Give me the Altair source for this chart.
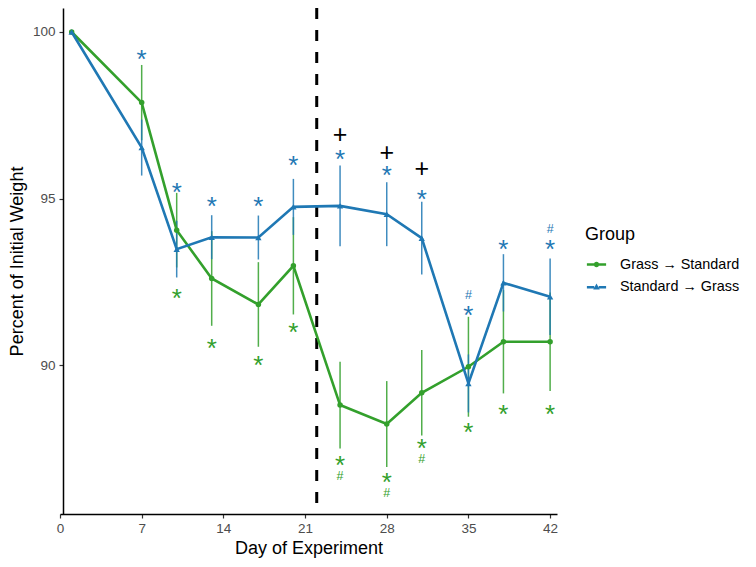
import altair as alt
import pandas as pd

# ---- data -------------------------------------------------------------
groups = ["Grass → Standard", "Standard → Grass"]
group_colors = ["#33a02c", "#1f78b4"]

days = [1, 7, 10, 13, 17, 20, 24, 28, 31, 35, 38, 42]

grass_to_standard_mean = [100.0, 97.88, 94.05, 92.60, 91.82, 92.98, 88.80, 88.23, 89.17, 89.95, 90.70, 90.70]
grass_to_standard_se = [0.0, 1.13, 1.12, 1.42, 1.27, 1.46, 1.30, 1.29, 1.28, 1.50, 1.55, 1.48]

standard_to_grass_mean = [100.0, 96.53, 93.48, 93.84, 93.83, 94.75, 94.78, 94.53, 93.81, 89.45, 92.47, 92.05]
standard_to_grass_se = [0.0, 0.84, 0.85, 0.66, 0.66, 0.84, 1.21, 0.96, 1.09, 0.87, 0.86, 1.15]

diet_switch_day = 22

# significance markers (placed at the centre of each glyph)
sg_star_days = [7, 10, 13, 17, 20, 24, 28, 31, 35, 38, 42]
sg_star_vals = [99.36, 95.38, 94.95, 94.95, 96.18, 96.36, 95.88, 95.17, 91.68, 93.67, 93.67]
sg_hash_days = [35, 42]
sg_hash_vals = [92.12, 94.10]

gs_star_days = [10, 13, 17, 20, 24, 28, 31, 35, 38, 42]
gs_star_vals = [92.18, 90.68, 90.18, 91.18, 87.18, 86.68, 87.68, 88.18, 88.70, 88.70]
gs_hash_days = [24, 28, 31]
gs_hash_vals = [86.68, 86.18, 87.20]

between_days = [24, 28, 31]
between_vals = [96.93, 96.41, 95.91]

# ---- tables -------------------------------------------------------------
rows = []
for g, means, ses in [(groups[0], grass_to_standard_mean, grass_to_standard_se),
                      (groups[1], standard_to_grass_mean, standard_to_grass_se)]:
    for d, m, s in zip(days, means, ses):
        rows.append({"Day": d, "Group": g, "Mean": m, "Lo": m - s, "Hi": m + s})
df = pd.DataFrame(rows)

ann_rows = []
for series, sym, ds, vs in [
    (groups[1], "*", sg_star_days, sg_star_vals),
    (groups[1], "#", sg_hash_days, sg_hash_vals),
    (groups[0], "*", gs_star_days, gs_star_vals),
    (groups[0], "#", gs_hash_days, gs_hash_vals),
    ("Between groups", "+", between_days, between_vals),
]:
    for d, v in zip(ds, vs):
        ann_rows.append({"Day": d, "Value": v, "Symbol": sym, "Series": series})
ann = pd.DataFrame(ann_rows)

switch = pd.DataFrame({"Day": [diet_switch_day]})

# ---- encodings ------------------------------------------------------------
FONT = "Liberation Sans"
x_scale = alt.Scale(domain=[0, 42.59], nice=False, zero=False)
y_scale = alt.Scale(domain=[85.53, 100.72], nice=False, zero=False)

common_axis = dict(
    grid=False, domainColor="black", domainWidth=1.5,
    tickColor="#333333", tickSize=4, tickWidth=1.2,
    labelColor="#4d4d4d", labelFontSize=13.5, labelFont=FONT,
    labelFlush=False, labelOverlap=False,
    titleFont=FONT, titleFontSize=18, titleFontWeight="normal", titleColor="black",
)
x_axis = alt.Axis(values=[0, 7, 14, 21, 28, 35, 42], title="Day of Experiment",
                  labelPadding=3, titlePadding=5, **common_axis)
y_axis = alt.Axis(values=[90, 95, 100], title="Percent of Initial Weight",
                  offset=-3, labelPadding=4, titlePadding=6, **common_axis)


def X(field="Day"):
    return alt.X(f"{field}:Q", scale=x_scale, axis=x_axis)


def Y(field):
    return alt.Y(f"{field}:Q", scale=y_scale, axis=y_axis)


def group_color(legend=None):
    return alt.Color("Group:N", scale=alt.Scale(domain=groups, range=group_colors), legend=legend)


# ---- layers ---------------------------------------------------------------
vline = alt.Chart(switch).mark_rule(color="black", strokeWidth=3, strokeDash=[11, 11]).encode(
    x=X(), y=alt.value(0), y2=alt.value(506)
)

errbars = alt.Chart(df).mark_rule(strokeWidth=1.5, opacity=0.85).encode(
    x=X(), y=Y("Lo"), y2="Hi:Q", color=group_color()
)

lines = alt.Chart(df).mark_line(strokeWidth=2.6).encode(
    x=X(), y=Y("Mean"), color=group_color()
)

circles = alt.Chart(df).transform_filter(alt.datum.Group == groups[0]).mark_point(
    filled=True, size=30, shape="circle", opacity=1
).encode(x=X(), y=Y("Mean"), color=group_color())

triangles = alt.Chart(df).transform_filter(alt.datum.Group == groups[1]).mark_point(
    filled=True, size=40, shape="triangle-up", opacity=1
).encode(x=X(), y=Y("Mean"), color=group_color())

# legend keys: a line segment with the group's point symbol on it
circle_key = ("M-0.85,-0.115H-0.2V0.115H-0.85Z M0.2,-0.115H0.85V0.115H0.2Z "
              "M0.24,0A0.24,0.24 0 1,1 -0.24,0A0.24,0.24 0 1,1 0.24,0Z")
triangle_key = ("M-0.85,-0.115H-0.2V0.115H-0.85Z M0.2,-0.115H0.85V0.115H0.2Z "
                "M0,-0.32L0.29,0.2L-0.29,0.2Z")

legend = alt.Legend(
    title="Group", orient="none", legendX=525, legendY=218, padding=0, offset=0,
    titleFont=FONT, titleFontSize=18, titleFontWeight="normal", titleColor="black",
    titlePadding=9, labelFont=FONT, labelFontSize=14.4, labelColor="black",
    labelOffset=12, symbolSize=511, symbolStrokeWidth=0, symbolOpacity=1, rowPadding=4.7,
)
legend_layer = alt.Chart(df).mark_point(filled=True, opacity=0).encode(
    x=X(), y=Y("Mean"),
    color=group_color(legend),
    shape=alt.Shape("Group:N", scale=alt.Scale(domain=groups, range=[circle_key, triangle_key]),
                    legend=legend),
)

ann_color = alt.Color("Series:N", scale=alt.Scale(domain=groups + ["Between groups"],
                                                   range=group_colors + ["black"]), legend=None)

stars = alt.Chart(ann).transform_filter(alt.datum.Symbol == "*").mark_text(
    font=FONT, fontSize=26, baseline="alphabetic", dy=15
).encode(x=X(), y=Y("Value"), text="Symbol:N", color=ann_color)

hashes = alt.Chart(ann).transform_filter(alt.datum.Symbol == "#").mark_text(
    font=FONT, fontSize=12.5, baseline="alphabetic", dy=4.4
).encode(x=X(), y=Y("Value"), text="Symbol:N", color=ann_color)

pluses = alt.Chart(ann).transform_filter(alt.datum.Symbol == "+").mark_text(
    font=FONT, fontSize=25, baseline="alphabetic", dy=9
).encode(x=X(), y=Y("Value"), text="Symbol:N", color=ann_color)

chart = alt.layer(
    vline, errbars, lines, circles, triangles, legend_layer, stars, hashes, pluses
).resolve_scale(
    color="independent", shape="independent"
).properties(
    width=497, height=506,
    autosize=alt.AutoSizeParams(type="none"),
    padding={"left": 60, "top": 8, "right": 199, "bottom": 53},
    background="white",
).configure_view(stroke=None)

chart.save("out.html", embed_options={"renderer": "svg", "actions": False})
